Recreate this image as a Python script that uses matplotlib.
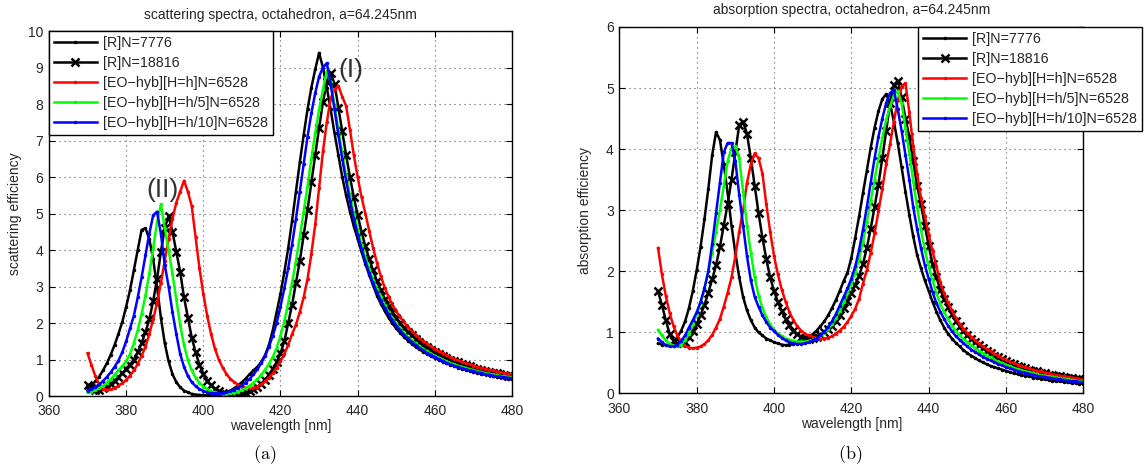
import numpy as np
import matplotlib.pyplot as plt

plt.rcParams['font.family'] = ['Liberation Sans', 'DejaVu Sans']
plt.rcParams['mathtext.fontset'] = 'cm'

# wavelength grid [nm]
wavelength = np.arange(370, 481)

# ---- scattering efficiency (panel a) ----
sca_r7776 = [
    0.22, 0.30, 0.40, 0.53, 0.70, 0.90, 1.13, 1.40, 1.70, 2.03,
    2.45, 2.90, 3.45, 4.00, 4.55, 4.60, 4.30, 3.75, 3.00, 2.15,
    1.45, 0.95, 0.60, 0.38, 0.24, 0.15, 0.10, 0.06, 0.04, 0.03,
    0.02, 0.02, 0.02, 0.03, 0.05, 0.07, 0.10, 0.15, 0.21, 0.29,
    0.38, 0.48, 0.60, 0.70, 0.80, 0.93, 1.12, 1.40, 1.80, 2.30,
    2.80, 3.40, 4.05, 4.80, 5.60, 6.40, 7.15, 7.85, 8.45, 8.95,
    9.40, 9.00, 8.45, 7.85, 7.20, 6.60, 6.00, 5.50, 5.05, 4.65,
    4.30, 3.95, 3.62, 3.32, 3.03, 2.75, 2.53, 2.33, 2.15, 1.99,
    1.85, 1.73, 1.62, 1.52, 1.43, 1.35, 1.28, 1.21, 1.15, 1.09,
    1.04, 0.99, 0.94, 0.90, 0.86, 0.82, 0.78, 0.75, 0.72, 0.69,
    0.66, 0.64, 0.61, 0.59, 0.57, 0.55, 0.53, 0.51, 0.50, 0.48,
    0.46]
sca_r18816 = [
    0.30, 0.22, 0.17, 0.17, 0.21, 0.27, 0.34, 0.42, 0.51, 0.62,
    0.74, 0.86, 1.00, 1.20, 1.45, 1.75, 2.10, 2.60, 3.20, 3.95,
    4.60, 4.93, 4.50, 3.95, 3.40, 2.70, 2.15, 1.60, 1.20, 0.85,
    0.60, 0.42, 0.29, 0.20, 0.13, 0.08, 0.05, 0.03, 0.03, 0.04,
    0.06, 0.09, 0.13, 0.18, 0.25, 0.34, 0.45, 0.58, 0.74, 0.93,
    1.17, 1.50, 2.00, 2.50, 3.10, 3.70, 4.40, 5.10, 5.85, 6.60,
    7.35, 8.05, 8.60, 8.85, 8.55, 7.90, 7.25, 6.60, 6.00, 5.45,
    4.95, 4.50, 4.10, 3.75, 3.44, 3.15, 2.90, 2.67, 2.47, 2.29,
    2.13, 1.99, 1.87, 1.76, 1.66, 1.57, 1.49, 1.41, 1.34, 1.27,
    1.21, 1.15, 1.10, 1.05, 1.00, 0.96, 0.92, 0.88, 0.84, 0.81,
    0.78, 0.75, 0.72, 0.69, 0.67, 0.64, 0.62, 0.60, 0.58, 0.56,
    0.54]
sca_hyb_h = [
    1.17, 0.85, 0.55, 0.32, 0.20, 0.17, 0.18, 0.22, 0.28, 0.35,
    0.44, 0.56, 0.70, 0.88, 1.10, 1.35, 1.70, 2.10, 2.55, 3.10,
    3.70, 4.30, 4.85, 5.30, 5.60, 5.90, 5.60, 5.20, 4.35, 3.50,
    2.80, 2.20, 1.70, 1.30, 1.00, 0.78, 0.60, 0.47, 0.38, 0.31,
    0.26, 0.23, 0.21, 0.22, 0.26, 0.32, 0.40, 0.50, 0.62, 0.78,
    0.95, 1.15, 1.40, 1.70, 1.95, 2.30, 2.70, 3.20, 3.90, 4.70,
    5.70, 6.70, 7.50, 8.15, 8.40, 8.50, 8.20, 7.95, 7.30, 6.60,
    6.00, 5.45, 5.00, 4.52, 4.05, 3.65, 3.28, 2.97, 2.72, 2.50,
    2.32, 2.16, 2.02, 1.89, 1.78, 1.68, 1.59, 1.50, 1.43, 1.36,
    1.29, 1.23, 1.17, 1.12, 1.07, 1.02, 0.98, 0.94, 0.90, 0.87,
    0.83, 0.80, 0.77, 0.75, 0.72, 0.70, 0.67, 0.65, 0.63, 0.61,
    0.59]
sca_hyb_h5 = [
    0.10, 0.12, 0.16, 0.21, 0.28, 0.36, 0.46, 0.58, 0.70, 0.82,
    0.96, 1.15, 1.45, 1.80, 2.25, 2.75, 3.35, 4.05, 4.75, 5.25,
    4.60, 4.00, 3.35, 2.65, 1.95, 1.40, 0.98, 0.70, 0.50, 0.36,
    0.26, 0.19, 0.14, 0.10, 0.07, 0.06, 0.06, 0.07, 0.09, 0.12,
    0.16, 0.21, 0.28, 0.36, 0.46, 0.58, 0.72, 0.88, 1.07, 1.32,
    1.65, 2.05, 2.55, 3.10, 3.70, 4.35, 5.05, 5.75, 6.50, 7.20,
    7.85, 8.40, 8.90, 8.60, 7.95, 7.30, 6.65, 6.05, 5.50, 5.00,
    4.55, 4.15, 3.80, 3.48, 3.19, 2.93, 2.70, 2.49, 2.30, 2.13,
    1.98, 1.85, 1.73, 1.62, 1.53, 1.44, 1.36, 1.29, 1.22, 1.16,
    1.10, 1.05, 1.00, 0.95, 0.91, 0.87, 0.83, 0.80, 0.77, 0.74,
    0.71, 0.68, 0.66, 0.63, 0.61, 0.59, 0.57, 0.55, 0.54, 0.52,
    0.51]
sca_hyb_h10 = [
    0.15, 0.19, 0.25, 0.32, 0.41, 0.52, 0.65, 0.80, 0.97, 1.20,
    1.50, 1.85, 2.20, 2.70, 3.25, 3.85, 4.45, 4.95, 5.05, 4.45,
    3.60, 3.00, 2.30, 1.70, 1.15, 0.80, 0.55, 0.38, 0.27, 0.19,
    0.14, 0.10, 0.08, 0.07, 0.07, 0.08, 0.10, 0.13, 0.17, 0.22,
    0.29, 0.37, 0.47, 0.59, 0.73, 0.90, 1.10, 1.35, 1.65, 2.00,
    2.45, 2.95, 3.50, 4.15, 4.85, 5.60, 6.35, 7.10, 7.75, 8.30,
    8.75, 9.00, 9.12, 8.55, 7.85, 7.15, 6.50, 5.90, 5.35, 4.85,
    4.42, 4.03, 3.68, 3.37, 3.09, 2.84, 2.62, 2.42, 2.24, 2.08,
    1.93, 1.80, 1.68, 1.58, 1.48, 1.40, 1.32, 1.25, 1.18, 1.12,
    1.06, 1.01, 0.96, 0.91, 0.87, 0.83, 0.80, 0.76, 0.73, 0.70,
    0.68, 0.65, 0.63, 0.60, 0.58, 0.56, 0.54, 0.53, 0.51, 0.50,
    0.48]

# ---- absorption efficiency (panel b) ----
abs_r7776 = [
    0.82, 0.80, 0.79, 0.80, 0.84, 0.92, 1.03, 1.18, 1.40, 1.68,
    2.02, 2.40, 2.85, 3.35, 3.90, 4.28, 4.15, 3.75, 3.28, 2.75,
    2.30, 1.90, 1.58, 1.36, 1.20, 1.08, 1.00, 0.95, 0.90, 0.87,
    0.84, 0.82, 0.80, 0.79, 0.80, 0.81, 0.83, 0.85, 0.88, 0.92,
    0.97, 1.03, 1.10, 1.18, 1.28, 1.40, 1.53, 1.68, 1.84, 1.98,
    2.22, 2.55, 2.90, 3.28, 3.65, 4.02, 4.35, 4.62, 4.82, 4.90,
    4.75, 4.45, 4.10, 3.70, 3.30, 2.92, 2.57, 2.27, 2.05, 1.85,
    1.68, 1.50, 1.34, 1.20, 1.08, 0.98, 0.90, 0.83, 0.77, 0.71,
    0.66, 0.62, 0.58, 0.54, 0.51, 0.48, 0.45, 0.43, 0.41, 0.39,
    0.37, 0.35, 0.33, 0.32, 0.30, 0.29, 0.28, 0.26, 0.25, 0.24,
    0.23, 0.22, 0.21, 0.20, 0.20, 0.19, 0.18, 0.17, 0.17, 0.16,
    0.16]
abs_r18816 = [
    1.67, 1.45, 1.20, 0.98, 0.86, 0.82, 0.82, 0.85, 0.92, 1.02,
    1.14, 1.28, 1.45, 1.65, 1.87, 2.10, 2.40, 2.75, 3.10, 3.50,
    3.95, 4.40, 4.45, 4.25, 3.85, 3.40, 2.95, 2.55, 2.20, 1.90,
    1.68, 1.50, 1.35, 1.22, 1.12, 1.03, 0.97, 0.93, 0.91, 0.90,
    0.91, 0.93, 0.96, 1.00, 1.05, 1.11, 1.19, 1.29, 1.40, 1.52,
    1.64, 1.78, 1.93, 2.12, 2.38, 2.70, 3.05, 3.42, 3.85, 4.30,
    4.75, 5.05, 5.12, 4.85, 4.50, 4.20, 3.80, 3.40, 3.10, 2.75,
    2.42, 2.12, 1.90, 1.70, 1.55, 1.42, 1.30, 1.19, 1.10, 1.02,
    0.95, 0.89, 0.84, 0.79, 0.74, 0.70, 0.66, 0.62, 0.59, 0.56,
    0.53, 0.50, 0.48, 0.45, 0.43, 0.41, 0.39, 0.37, 0.36, 0.34,
    0.33, 0.31, 0.30, 0.29, 0.28, 0.27, 0.26, 0.25, 0.24, 0.23,
    0.22]
abs_hyb_h = [
    2.38, 1.95, 1.60, 1.32, 1.10, 0.95, 0.84, 0.78, 0.75, 0.74,
    0.75, 0.77, 0.81, 0.87, 0.96, 1.08, 1.22, 1.42, 1.65, 1.90,
    2.25, 2.65, 3.00, 3.45, 3.75, 3.93, 3.85, 3.60, 3.10, 2.65,
    2.25, 1.95, 1.70, 1.50, 1.33, 1.20, 1.10, 1.03, 0.98, 0.95,
    0.93, 0.91, 0.90, 0.90, 0.91, 0.94, 0.98, 1.03, 1.09, 1.17,
    1.27, 1.39, 1.55, 1.80, 2.02, 2.30, 2.62, 2.98, 3.35, 3.75,
    4.08, 4.45, 4.80, 5.02, 5.08, 4.60, 4.05, 3.60, 3.20, 2.90,
    2.60, 2.33, 2.08, 1.82, 1.64, 1.49, 1.36, 1.24, 1.14, 1.06,
    0.99, 0.93, 0.87, 0.82, 0.77, 0.73, 0.69, 0.65, 0.62, 0.58,
    0.55, 0.52, 0.50, 0.47, 0.45, 0.43, 0.41, 0.39, 0.37, 0.36,
    0.34, 0.33, 0.31, 0.30, 0.29, 0.28, 0.27, 0.26, 0.25, 0.24,
    0.23]
abs_hyb_h5 = [
    1.04, 0.95, 0.87, 0.81, 0.78, 0.77, 0.80, 0.87, 0.98, 1.14,
    1.30, 1.48, 1.72, 2.00, 2.30, 2.65, 3.00, 3.40, 3.80, 4.02,
    4.05, 3.85, 3.30, 2.75, 2.30, 1.90, 1.60, 1.40, 1.25, 1.13,
    1.04, 0.98, 0.94, 0.90, 0.88, 0.86, 0.85, 0.85, 0.85, 0.86,
    0.88, 0.90, 0.94, 0.99, 1.05, 1.13, 1.23, 1.35, 1.49, 1.64,
    1.80, 1.98, 2.20, 2.48, 2.80, 3.15, 3.50, 3.85, 4.18, 4.48,
    4.70, 4.88, 4.95, 4.75, 4.35, 3.92, 3.48, 3.05, 2.68, 2.35,
    2.08, 1.85, 1.64, 1.47, 1.33, 1.22, 1.11, 1.02, 0.95, 0.89,
    0.84, 0.79, 0.74, 0.70, 0.66, 0.62, 0.59, 0.55, 0.52, 0.50,
    0.47, 0.45, 0.42, 0.40, 0.38, 0.36, 0.35, 0.33, 0.32, 0.30,
    0.29, 0.28, 0.27, 0.26, 0.25, 0.24, 0.23, 0.22, 0.21, 0.20,
    0.20]
abs_hyb_h10 = [
    0.90, 0.84, 0.79, 0.77, 0.77, 0.80, 0.86, 0.95, 1.08, 1.20,
    1.33, 1.50, 1.72, 2.00, 2.45, 2.95, 3.45, 3.95, 4.10, 4.10,
    3.80, 3.25, 2.75, 2.25, 1.85, 1.58, 1.42, 1.28, 1.17, 1.08,
    1.02, 0.96, 0.91, 0.87, 0.84, 0.82, 0.81, 0.81, 0.82, 0.84,
    0.87, 0.90, 0.95, 1.01, 1.09, 1.18, 1.30, 1.44, 1.58, 1.72,
    1.88, 2.08, 2.35, 2.68, 3.05, 3.45, 3.85, 4.20, 4.50, 4.75,
    4.92, 4.97, 4.65, 4.30, 3.90, 3.50, 3.05, 2.70, 2.38, 2.10,
    1.88, 1.66, 1.48, 1.34, 1.22, 1.11, 1.02, 0.94, 0.88, 0.82,
    0.77, 0.72, 0.68, 0.64, 0.60, 0.57, 0.54, 0.51, 0.48, 0.46,
    0.43, 0.41, 0.39, 0.37, 0.35, 0.34, 0.32, 0.31, 0.29, 0.28,
    0.27, 0.26, 0.25, 0.24, 0.23, 0.22, 0.21, 0.20, 0.20, 0.19,
    0.18]

labels = ['[R]N=7776', '[R]N=18816', '[EO\u2212hyb][H=h]N=6528',
          '[EO\u2212hyb][H=h/5]N=6528', '[EO\u2212hyb][H=h/10]N=6528']
colors = ['#000000', '#000000', '#ff0000', '#00ff00', '#0000ff']
markers = ['.', 'x', '.', '.', '.']

TXT = '#262626'


def draw_panel(ax, curves, title, ylabel, ymax):
    for vals, lab, col, mk in zip(curves, labels, colors, markers):
        if mk == 'x':
            ax.plot(wavelength, vals, color=col, lw=1.8, marker='x', ms=6,
                    mew=1.8, label=lab)
        else:
            ax.plot(wavelength, vals, color=col, lw=1.8, marker='.', ms=3,
                    label=lab)
    ax.set_xlim(360, 480)
    ax.set_ylim(0, ymax)
    ax.set_xticks(np.arange(360, 481, 20))
    ax.set_yticks(np.arange(0, ymax + 1, 1))
    ax.grid(True, linestyle=(0, (1, 3.5)), color='#555555', lw=0.8)
    ax.tick_params(direction='in', top=True, right=True, length=4,
                   width=0.8, labelsize=10, labelcolor=TXT)
    ax.tick_params(axis='x', pad=6)
    ax.tick_params(axis='y', pad=4)
    for s in ax.spines.values():
        s.set_linewidth(1.0)
        s.set_color('black')
    ax.set_title(title, fontsize=10, color=TXT, pad=9)
    ax.set_xlabel('wavelength [nm]', fontsize=10, color=TXT)
    ax.set_ylabel(ylabel, fontsize=10, color=TXT)
    ax.xaxis.set_label_coords(0.5, -0.063)
    ax.yaxis.set_label_coords(-0.058, 0.5)


fig = plt.figure(figsize=(11.47, 4.70), dpi=100, facecolor='white')
ax1 = fig.add_axes([0.0427, 0.1574, 0.4037, 0.7766])
ax2 = fig.add_axes([0.5400, 0.1628, 0.4045, 0.7798])

draw_panel(ax1, [sca_r7776, sca_r18816, sca_hyb_h, sca_hyb_h5, sca_hyb_h10],
           'scattering spectra, octahedron, a=64.245nm',
           'scattering efficiency', 10)
draw_panel(ax2, [abs_r7776, abs_r18816, abs_hyb_h, abs_hyb_h5, abs_hyb_h10],
           'absorption spectra, octahedron, a=64.245nm',
           'absorption efficiency', 6)

leg_kw = dict(fontsize=10.3, handlelength=3.0, handletextpad=0.4,
              labelspacing=0.42, borderpad=0.35, fancybox=False,
              framealpha=1, edgecolor='black', numpoints=1)
leg1 = ax1.legend(loc='upper left', borderaxespad=0, **leg_kw)
leg2 = ax2.legend(loc='upper right', bbox_to_anchor=(1142 / 1147, 1 - 27 / 470),
                  bbox_transform=fig.transFigure, borderaxespad=0, **leg_kw)
for leg in (leg1, leg2):
    leg.get_frame().set_linewidth(1.0)
    for t in leg.get_texts():
        t.set_color(TXT)

# peak annotations
ax1.text(438.3, 8.92, '(I)', fontsize=19, color='#333333', ha='center', va='center')
ax1.text(389.3, 5.64, '(II)', fontsize=19, color='#333333', ha='center', va='center')

# sub-figure captions
fig.text(0.231, 0.032, r'$\mathrm{(a)}$', fontsize=13, ha='center', va='center')
fig.text(0.741, 0.032, r'$\mathrm{(b)}$', fontsize=13, ha='center', va='center')

fig.savefig('out.png', dpi=100, facecolor='white')
